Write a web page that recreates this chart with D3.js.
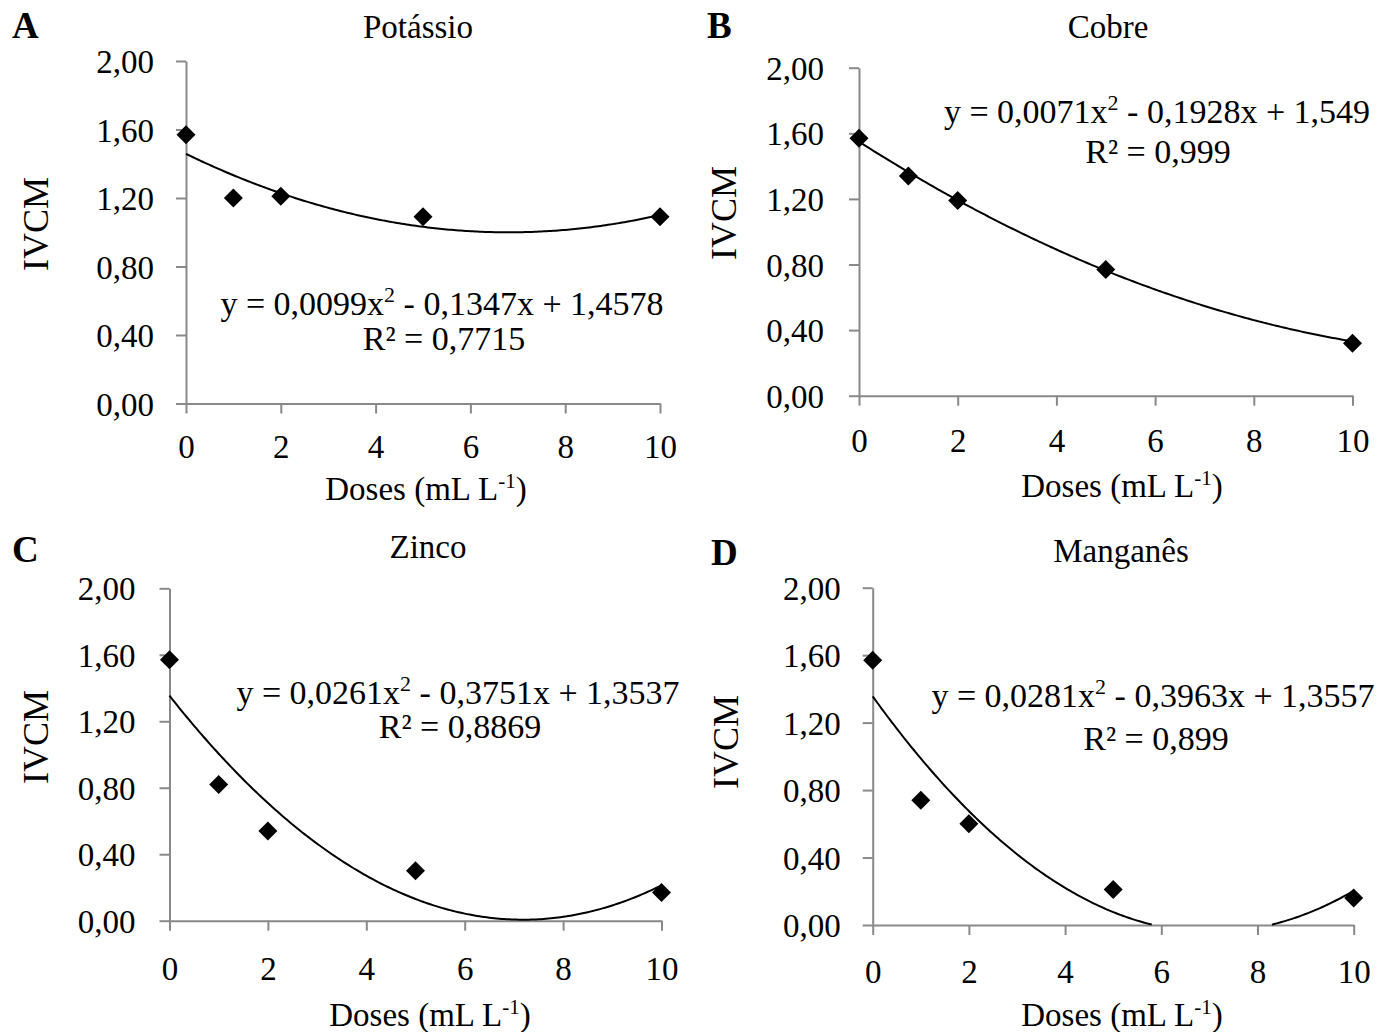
<!DOCTYPE html>
<html>
<head>
<meta charset="utf-8">
<script src="https://cdn.jsdelivr.net/npm/d3@7"></script>
<style>
  html, body { margin: 0; padding: 0; background: #fff; }
  svg { display: block; }
  text { font-family: "Liberation Serif", "Times New Roman", serif; fill: #000; }
</style>
</head>
<body>
<svg id="chart" width="1378" height="1032"></svg>
<script>
// ---------- data ----------
const doses = [0, 1, 2, 5, 10];
const potassio = [1.57, 1.20, 1.21, 1.09, 1.09];
const cobre    = [1.57, 1.34, 1.19, 0.77, 0.32];
const zinco    = [1.57, 0.82, 0.54, 0.30, 0.17];
const manganes = [1.57, 0.74, 0.60, 0.21, 0.16];

// quadratic trendline coefficients [a, b, c] : y = a x^2 + b x + c
const coefPotassio = [0.0099, -0.1347, 1.4578];
const coefCobre    = [0.0071, -0.1928, 1.549];
const coefZinco    = [0.0261, -0.3751, 1.3537];
const coefManganes = [0.0281, -0.3963, 1.3557];

const titles   = ["Potássio", "Cobre", "Zinco", "Manganês"];
const letters  = ["A", "B", "C", "D"];
const eqCoefText = [
  ["y = 0,0099x", "2", " - 0,1347x + 1,4578"],
  ["y = 0,0071x", "2", " - 0,1928x + 1,549"],
  ["y = 0,0261x", "2", " - 0,3751x + 1,3537"],
  ["y = 0,0281x", "2", " - 0,3963x + 1,3557"]
];
const r2Text = ["R² = 0,7715", "R² = 0,999", "R² = 0,8869", "R² = 0,899"];

const xTicks = [0, 2, 4, 6, 8, 10];
const yTicks = [0, 0.4, 0.8, 1.2, 1.6, 2.0];
const yLabel = "IVCM";

// ---------- layout ----------
const layout = [
  { x0: 186,   x1: 660,    yTop: 61,    yBot: 403.5, title: [418, 38],  letter: [12, 38],  ylab: [36, 224],  xlab: [426, 500],  eq: [442, 315],  r2: [444, 350],  xlabOff: 54, ylabGap: 32 },
  { x0: 859,   x1: 1352.5, yTop: 67.7,  yBot: 395.7, title: [1108, 38], letter: [707, 38], ylab: [724, 213], xlab: [1122, 497], eq: [1157, 123], r2: [1158, 163], xlabOff: 56, ylabGap: 35 },
  { x0: 169.5, x1: 661.5,  yTop: 588.3, yBot: 920.7, title: [428, 558], letter: [12, 562], ylab: [36, 737],  xlab: [430, 1026], eq: [458, 704],  r2: [460, 738],  xlabOff: 59, ylabGap: 34 },
  { x0: 872.7, x1: 1353.7, yTop: 587.7, yBot: 925,   title: [1121, 562],letter: [711, 565],ylab: [726, 742], xlab: [1122, 1026],eq: [1153, 707], r2: [1156, 750], xlabOff: 58, ylabGap: 32 }
];

const series = [potassio, cobre, zinco, manganes];
const coefs = [coefPotassio, coefCobre, coefZinco, coefManganes];

const svg = d3.select("#chart");
const FS = 33;
const axisColor = "#898989";

series.forEach((vals, i) => {
  const L = layout[i];
  const g = svg.append("g");
  const x = d3.scaleLinear().domain([0, 10]).range([L.x0, L.x1]);
  const y = d3.scaleLinear().domain([0, 2]).range([L.yBot, L.yTop]);

  // y axis
  const ya = g.append("g").attr("transform", `translate(${L.x0},0)`)
    .call(d3.axisLeft(y).tickValues(yTicks).tickSize(10).tickSizeOuter(0)
      .tickPadding(L.ylabGap - 10)
      .tickFormat(d => d.toFixed(2).replace(".", ",")));
  // x axis
  const xa = g.append("g").attr("transform", `translate(0,${L.yBot})`)
    .call(d3.axisBottom(x).tickValues(xTicks).tickSize(10).tickSizeOuter(0)
      .tickFormat(d => String(d)));
  [ya, xa].forEach(a => {
    a.select(".domain").attr("stroke", axisColor).attr("stroke-width", 2);
    a.selectAll(".tick line").attr("stroke", axisColor).attr("stroke-width", 2);
    a.selectAll(".tick text").attr("fill", "#000")
      .style("font-family", '"Liberation Serif", serif').style("font-size", FS + "px");
  });
  ya.selectAll(".tick text").attr("dy", "0.35em");
  xa.selectAll(".tick text").attr("dy", null).attr("y", L.xlabOff);

  // trendline
  const c = coefs[i];
  const f = t => c[0] * t * t + c[1] * t + c[2];
  const pts = d3.range(0, 10.0001, 0.05).map(t => ({ t, v: f(t) }));
  const line = d3.line().defined(d => d.v >= 0).x(d => x(d.t)).y(d => y(d.v));
  g.append("path").datum(pts).attr("d", line)
    .attr("fill", "none").attr("stroke", "#000").attr("stroke-width", 2);

  // markers
  const sym = d3.symbol().type(d3.symbolDiamond2).size(230);
  g.selectAll(".pt").data(doses.map((d, k) => [d, vals[k]])).join("path")
    .attr("transform", d => `translate(${x(d[0])},${y(d[1])})`)
    .attr("d", sym).attr("fill", "#000");

  // titles
  g.append("text").attr("x", L.title[0]).attr("y", L.title[1])
    .attr("text-anchor", "middle").style("font-size", FS + "px").text(titles[i]);
  g.append("text").attr("x", L.letter[0]).attr("y", L.letter[1])
    .style("font-size", "37px").style("font-weight", "bold").text(letters[i]);
  g.append("text").attr("transform", `translate(${L.ylab[0] + 12},${L.ylab[1]}) rotate(-90)`)
    .attr("text-anchor", "middle").style("font-size", "36px").text(yLabel);

  // x axis label
  const xl = g.append("text").attr("x", L.xlab[0]).attr("y", L.xlab[1])
    .attr("text-anchor", "middle").style("font-size", FS + "px");
  xl.append("tspan").text("Doses (mL L");
  xl.append("tspan").attr("dy", -12).style("font-size", "21px").text("-1");
  xl.append("tspan").attr("dy", 12).text(")");

  // equation
  const eq = g.append("text").attr("x", L.eq[0]).attr("y", L.eq[1])
    .attr("text-anchor", "middle").style("font-size", "34px");
  eq.append("tspan").text(eqCoefText[i][0]);
  eq.append("tspan").attr("dy", -13).style("font-size", "22px").text(eqCoefText[i][1]);
  eq.append("tspan").attr("dy", 13).text(eqCoefText[i][2]);
  g.append("text").attr("x", L.r2[0]).attr("y", L.r2[1])
    .attr("text-anchor", "middle").style("font-size", "34px").text(r2Text[i]);
});
</script>
</body>
</html>
